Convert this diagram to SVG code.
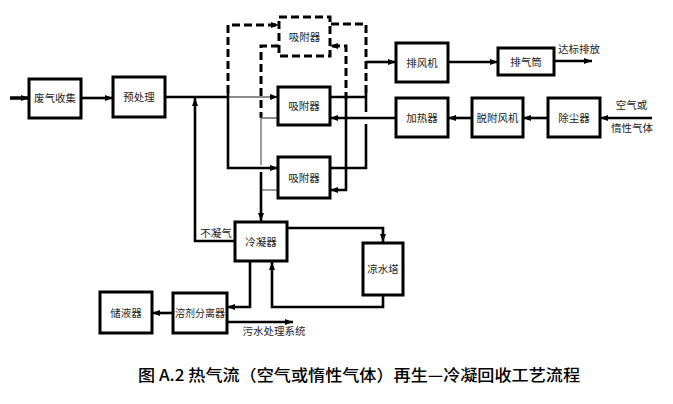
<svg xmlns="http://www.w3.org/2000/svg" width="673" height="404" viewBox="0 0 673 404">
<style>
.box{fill:#fff;stroke:#000;stroke-width:3}
.dbox{fill:#fff;stroke:#000;stroke-width:3;stroke-dasharray:8 4}
.lbl{font-family:"Noto Sans CJK SC","Liberation Sans",sans-serif;font-size:10.5px;fill:#222;text-anchor:middle}
.ln{fill:none;stroke:#000;stroke-width:2.6}
.th{fill:none;stroke:#666;stroke-width:1.3}
.ds{fill:none;stroke:#000;stroke-width:3;stroke-dasharray:8 4}
.cap{font-family:"Noto Sans CJK SC","Liberation Sans",sans-serif;font-size:16px;fill:#000;font-weight:500}
</style>
<defs>
<marker id="ar" markerUnits="userSpaceOnUse" markerWidth="8" markerHeight="6" refX="8" refY="3" orient="auto">
<path d="M0,0 L8,3 L0,6 z" fill="#000"/>
</marker>
</defs>
<rect width="673" height="404" fill="#fff"/>
<g id="connectors">
<path class="ln" d="M10,98 H29" style="stroke-width:3.5" marker-end="url(#ar)"/>
<path class="ln" d="M81,98 H113" marker-end="url(#ar)"/>
<path class="ln" d="M165,97 H228"/>
<path class="th" d="M228,97 H278" marker-end="url(#ar)"/>
<path class="ln" d="M235,241 H195 V98" marker-end="url(#ar)"/>
<path class="ln" d="M228,93 V168 H278" marker-end="url(#ar)"/>
<path class="ds" d="M228,93 V25 H279" marker-end="url(#ar)"/>
<path class="ds" d="M279,46 H261 V118"/>
<path class="th" d="M278,118 H261 V165"/>
<path class="th" d="M278,190 H261"/>
<path class="ln" d="M261,172 V221" marker-end="url(#ar)"/>
<path class="ln" d="M330,97 H366"/>
<path class="ln" d="M330,168 H366 V124"/>
<path class="ln" d="M366,112 V93"/>
<path class="ds" d="M366,93 V24 H330"/>
<path class="ln" d="M366,62 H396" marker-end="url(#ar)"/>
<path class="ln" d="M396,118 H330" marker-end="url(#ar)"/>
<path class="ds" d="M346,100 V46 H330" marker-end="url(#ar)"/>
<path class="ln" d="M346,100 V190 H330" marker-end="url(#ar)"/>
<path class="ln" d="M448,62 H498" marker-end="url(#ar)"/>
<path class="ln" d="M554,61 H592" marker-end="url(#ar)"/>
<path class="ln" d="M652,118 H600" marker-end="url(#ar)"/>
<path class="ln" d="M548,118 H523" marker-end="url(#ar)"/>
<path class="ln" d="M472,118 H448" marker-end="url(#ar)"/>
<path class="ln" d="M287,228 H383 V242" marker-end="url(#ar)"/>
<path class="ln" d="M383,295 V307 H272 V262" marker-end="url(#ar)"/>
<path class="ln" d="M250,261 V307 H227" marker-end="url(#ar)"/>
<path class="ln" d="M173,313 H152" marker-end="url(#ar)"/>
<path class="ln" d="M227,322 H293" marker-end="url(#ar)"/>
</g>
<g id="n-feiqi"><rect class="box" x="29" y="79" width="52" height="39"/><text class="lbl" x="55" y="102">废气收集</text></g>
<g id="n-yuchuli"><rect class="box" x="113" y="77" width="52" height="40"/><text class="lbl" x="139" y="101">预处理</text></g>
<g id="n-xifu0"><rect class="dbox" x="279" y="17" width="51" height="39"/><text class="lbl" x="304.5" y="40.5">吸附器</text></g>
<g id="n-xifu1"><rect class="box" x="278" y="87" width="52" height="38"/><text class="lbl" x="304" y="110">吸附器</text></g>
<g id="n-xifu2"><rect class="box" x="278" y="157" width="52" height="41"/><text class="lbl" x="304" y="181.5">吸附器</text></g>
<g id="n-paifengji"><rect class="box" x="396" y="43" width="52" height="39"/><text class="lbl" x="422" y="66.5">排风机</text></g>
<g id="n-paiqitong"><rect class="box" x="498" y="48" width="56" height="27"/><text class="lbl" x="526" y="65.5">排气筒</text></g>
<g id="n-jiareqi"><rect class="box" x="396" y="98" width="52" height="39"/><text class="lbl" x="422" y="121.5">加热器</text></g>
<g id="n-tuofu"><rect class="box" x="472" y="98" width="51" height="39"/><text class="lbl" x="497.5" y="121.5">脱附风机</text></g>
<g id="n-chuchen"><rect class="box" x="548" y="98" width="52" height="39"/><text class="lbl" x="574" y="121.5">除尘器</text></g>
<g id="n-lengning"><rect class="box" x="235" y="222" width="52" height="39"/><text class="lbl" x="261" y="245.5">冷凝器</text></g>
<g id="n-liangshui"><rect class="box" x="363" y="243" width="40" height="52"/><text class="lbl" x="383" y="273">凉水塔</text></g>
<g id="n-fenli"><rect class="box" x="173" y="293" width="54" height="40"/><text class="lbl" x="200" y="317" textLength="50" lengthAdjust="spacingAndGlyphs">溶剂分离器</text></g>
<g id="n-chuye"><rect class="box" x="100" y="292" width="52" height="41"/><text class="lbl" x="126" y="316.5">储液器</text></g>
<g id="labels">
<text class="lbl" x="216" y="237">不凝气</text>
<text class="lbl" x="579" y="53">达标排放</text>
<text class="lbl" x="631.5" y="109">空气或</text>
<text class="lbl" x="632" y="132">惰性气体</text>
<text class="lbl" x="274" y="335">污水处理系统</text>
<text class="cap" x="138" y="381" textLength="442" lengthAdjust="spacingAndGlyphs">图 A.2 热气流（空气或惰性气体）再生—冷凝回收工艺流程</text>
</g>
</svg>
